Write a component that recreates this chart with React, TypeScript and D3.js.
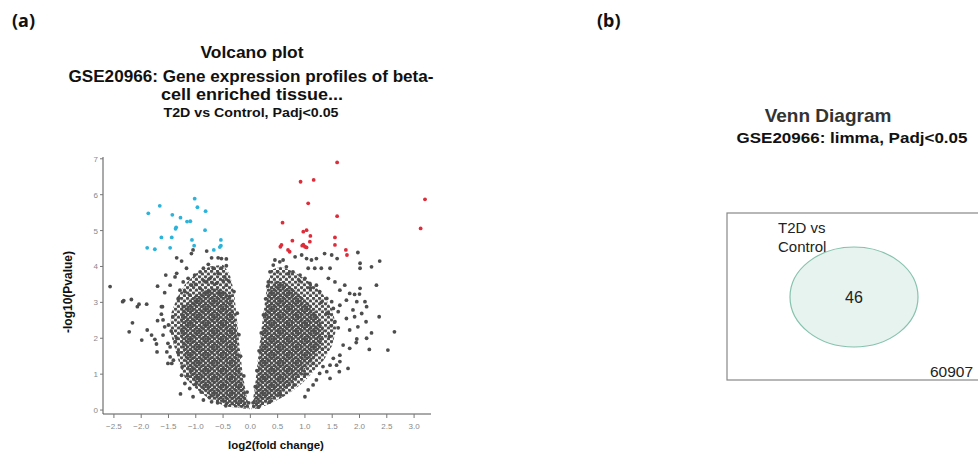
import React from "react";
import * as d3 from "d3";

type P = [number, number];

// ---- Volcano plot data (log2 fold change, -log10 p) ----
const xTicks = [-2.5, -2.0, -1.5, -1.0, -0.5, 0.0, 0.5, 1.0, 1.5, 2.0, 2.5, 3.0];
const yTicks = [0, 1, 2, 3, 4, 5, 6, 7];

const downGenes: P[] = [
  [-1.89, 4.52], [-1.75, 4.48], [-1.87, 5.48], [-1.66, 5.69], [-1.63, 4.81], [-1.47, 4.52],
  [-1.44, 4.81], [-1.43, 5.44], [-1.36, 5.09], [-1.37, 5.05], [-1.28, 5.36], [-1.16, 5.25],
  [-1.10, 5.26], [-1.07, 4.74], [-1.03, 4.58], [-1.02, 5.89], [-0.97, 5.65], [-0.82, 5.54],
  [-0.83, 5.01], [-0.67, 4.46], [-0.54, 4.74], [-0.54, 4.58], [-0.56, 4.54],
];

const upGenes: P[] = [
  [1.59, 6.90], [0.92, 6.36], [1.16, 6.41], [1.06, 5.76], [1.59, 5.40], [0.59, 5.22],
  [0.97, 4.97], [1.03, 5.01], [1.10, 4.85], [1.09, 4.69], [0.77, 4.72], [1.55, 4.81],
  [1.55, 4.60], [0.57, 4.60], [0.55, 4.55], [0.69, 4.46], [0.72, 4.41], [0.95, 4.58],
  [1.00, 4.55], [0.97, 4.61], [1.03, 4.53], [1.75, 4.46], [1.77, 4.32], [3.20, 5.87],
  [3.12, 5.06],
];

// outlines of the densely packed gene clouds (outer = semi-dense, inner = solid core)
const leftOuter: P[] = [
  [-0.01, 0.02], [-0.45, 0.1], [-0.75, 0.3], [-1.0, 0.6], [-1.2, 0.9], [-1.3, 1.3], [-1.4, 1.8],
  [-1.47, 2.2], [-1.45, 2.7], [-1.35, 3.1], [-1.2, 3.5], [-1.0, 3.8], [-0.75, 4.0], [-0.5, 4.05],
  [-0.38, 3.8], [-0.3, 3.3], [-0.25, 2.6], [-0.2, 1.8], [-0.14, 1.0], [-0.07, 0.4],
];
const leftInner: P[] = [
  [-0.03, 0.05], [-0.4, 0.14], [-0.65, 0.3], [-0.9, 0.6], [-1.08, 0.9], [-1.18, 1.3],
  [-1.25, 1.8], [-1.3, 2.3], [-1.25, 2.8], [-1.1, 3.1], [-0.9, 3.3], [-0.65, 3.4],
  [-0.45, 3.3], [-0.33, 3.0], [-0.27, 2.4], [-0.23, 1.7], [-0.17, 1.0], [-0.1, 0.5],
];
const rightOuter: P[] = [
  [0.02, 0.02], [0.08, 0.6], [0.13, 1.3], [0.19, 2.1], [0.25, 2.8], [0.3, 3.4], [0.38, 3.9],
  [0.55, 4.0], [0.8, 3.85], [1.05, 3.6], [1.3, 3.3], [1.5, 2.8], [1.58, 2.3], [1.5, 1.8],
  [1.35, 1.4], [1.15, 1.05], [0.95, 0.75], [0.7, 0.45], [0.4, 0.2], [0.15, 0.05],
];
const rightInner: P[] = [
  [0.04, 0.05], [0.1, 0.6], [0.15, 1.3], [0.21, 2.1], [0.27, 2.8], [0.33, 3.3], [0.45, 3.6],
  [0.65, 3.55], [0.85, 3.3], [1.05, 3.0], [1.25, 2.6], [1.35, 2.2], [1.3, 1.8], [1.15, 1.4],
  [0.95, 1.05], [0.7, 0.65], [0.45, 0.35], [0.2, 0.12],
];

const grayGenes: P[] = [
  // left side scattered
  [-2.57, 3.44], [-2.34, 3.02], [-2.32, 3.05], [-2.18, 3.08], [-2.07, 2.88], [-2.04, 2.95],
  [-2.16, 2.43], [-2.22, 2.18], [-1.99, 1.95], [-1.90, 2.95], [-1.89, 2.23], [-1.81, 2.09],
  [-1.75, 1.97], [-1.72, 1.84], [-1.71, 1.62], [-1.70, 3.45], [-1.70, 2.49], [-1.61, 2.88],
  [-1.55, 3.76], [-1.57, 3.27], [-1.28, 0.45], [-1.35, 4.24], [-1.26, 4.15], [-1.08, 4.36],
  [-1.05, 4.46], [-0.80, 4.43], [-0.59, 4.24], [-0.53, 4.22], [-0.44, 4.21], [-1.63, 2.88],
  [-1.57, 2.32], [-1.51, 1.86], [-1.53, 1.62], [-1.47, 1.48], [-1.41, 1.39], [-1.51, 1.30],
  [-1.26, 0.97], [-1.20, 0.74], [-1.11, 0.60], [-1.05, 0.37], [-0.86, 0.28], [-0.71, 0.23],
  [-1.60, 2.09], [-1.35, 2.00], [-1.17, 3.95], [-0.71, 4.24], [-0.77, 4.06], [-0.86, 3.95],
  [-0.92, 3.85], [-1.02, 3.76], [-1.14, 3.67], [-1.23, 3.57], [-1.35, 3.81], [-1.38, 3.71],
  [-1.47, 3.48], [-0.68, 3.95], [-0.59, 3.81], [-0.47, 3.71], [-0.44, 3.48], [-0.92, 3.39],
  [-1.29, 3.34], [-1.32, 3.11], [-1.23, 2.88], [-1.60, 2.51], [-1.63, 2.67], [-0.44, 4.02],
  [-0.53, 3.95], [-0.74, 3.67], [-0.80, 3.57], [-0.62, 3.53], [-1.08, 3.48], [-1.11, 3.20],
  [-0.77, 3.30], [-0.56, 3.25], [-0.38, 3.16], [-0.99, 3.02], [-1.50, 2.37], [-1.44, 1.30],
  [-1.47, 1.76],
  // left cloud edges
  [-1.45, 2.2], [-1.42, 2.6], [-1.38, 1.9], [-1.32, 1.6], [-1.25, 1.2], [-1.15, 0.95],
  [-1.0, 0.72], [-0.9, 0.5], [-0.75, 0.35], [-0.6, 0.2], [-0.45, 0.12], [-1.2, 3.3],
  [-1.0, 3.5], [-0.85, 3.6], [-0.7, 3.55], [-0.5, 3.6], [-0.4, 3.6], [-0.3, 3.3],
  [-0.24, 2.7], [-0.21, 2.1], [-0.18, 1.5], [-0.12, 0.95], [-0.06, 0.5], [-0.03, 0.2],
  // right side scattered
  [0.45, 4.18], [0.60, 4.18], [0.82, 4.27], [0.94, 4.32], [1.03, 4.22], [1.12, 4.18],
  [1.21, 4.22], [1.36, 4.36], [1.49, 4.32], [1.59, 4.22], [1.97, 4.39], [2.01, 4.09],
  [2.01, 3.95], [2.22, 3.99], [2.37, 4.15], [1.46, 3.95], [1.55, 3.57], [1.43, 3.67],
  [1.73, 3.48], [1.30, 3.95], [1.18, 3.95], [1.06, 3.95], [1.64, 3.34], [1.82, 3.25],
  [1.91, 3.22], [2.01, 3.39], [2.31, 3.48], [1.76, 3.06], [1.95, 3.02], [2.10, 3.02],
  [2.13, 2.88], [1.88, 2.79], [1.64, 2.92], [1.61, 2.74], [2.04, 2.69], [1.76, 2.55],
  [1.91, 2.60], [2.36, 2.60], [2.52, 1.67], [2.64, 2.18], [2.18, 1.69], [2.22, 2.15],
  [2.12, 2.46], [2.00, 3.23], [1.94, 1.88], [1.00, 0.37], [1.63, 1.07], [1.79, 1.16],
  [1.61, 2.29], [1.82, 2.23], [1.97, 2.32], [1.95, 1.98], [2.13, 2.00], [1.70, 1.81],
  [1.82, 1.72], [1.64, 1.53], [1.52, 1.44], [1.46, 1.25], [1.64, 1.35], [1.40, 1.07],
  [1.27, 1.02], [1.46, 0.88], [1.06, 0.56], [1.15, 0.70], [1.21, 0.84], [1.33, 1.21],
  [1.58, 1.25], [0.36, 3.85], [0.33, 3.57], [0.42, 4.04], [0.54, 4.13], [0.66, 3.99],
  [0.78, 3.85], [0.91, 3.76], [1.00, 3.67], [1.09, 3.53], [1.21, 3.48], [1.27, 3.30],
  [1.40, 3.11], [1.49, 3.02], [1.52, 2.83], [1.43, 2.69], [1.55, 2.46],
  // right cloud edges
  [0.05, 0.2], [0.09, 0.65], [0.12, 1.1], [0.16, 1.65], [0.2, 2.15], [0.24, 2.65],
  [0.28, 3.1], [0.32, 3.45], [0.5, 3.85], [0.7, 3.8], [0.9, 3.6], [1.1, 3.4], [1.3, 3.0],
  [1.4, 2.7], [1.48, 2.35], [1.45, 2.05], [1.32, 1.7], [1.15, 1.3], [1.0, 1.0], [0.8, 0.7],
  [0.55, 0.42], [0.35, 0.22], [0.15, 0.08],
];

// ---- Venn data ----
const vennSetLabel = ["T2D vs", "Control"];
const vennSetCount = 46;
const vennOutsideCount = 60907;

const FONT = "'Liberation Sans', Arial, Helvetica, sans-serif";

export default function App() {
  const x = d3.scaleLinear().domain([-2.7, 3.31]).range([103, 431]);
  const y = d3.scaleLinear().domain([-0.11, 7.05]).range([414, 157]);
  const outline = d3
    .line<P>()
    .x((d) => x(d[0]))
    .y((d) => y(d[1]))
    .curve(d3.curveLinearClosed);
  const fmt = d3.format(".1f");
  const r = 1.9;
  const dot = "#4d4d4d";

  return (
    <div style={{ position: "absolute", left: 0, top: 0 }}>
      <svg width={978} height={454} style={{ display: "block", background: "#fff" }} fontFamily={FONT}>
        <defs>
          <pattern id="sparse" width={6.0} height={5.4} patternUnits="userSpaceOnUse">
            <circle cx={1.5} cy={1.35} r={1.7} fill={dot} />
            <circle cx={4.5} cy={4.05} r={1.7} fill={dot} />
          </pattern>
          <pattern id="dense" width={4.4} height={4.0} patternUnits="userSpaceOnUse">
            <circle cx={1.1} cy={1.0} r={1.6} fill={dot} />
            <circle cx={3.3} cy={3.0} r={1.6} fill={dot} />
          </pattern>
        </defs>

        {/* panel labels */}
        <text x={12} y={27} fontSize={18} fontWeight="bold" fontFamily="'Noto Sans', 'Open Sans', sans-serif" fill="#111">(a)</text>
        <text x={597} y={27} fontSize={18} fontWeight="bold" fontFamily="'Noto Sans', 'Open Sans', sans-serif" fill="#111">(b)</text>

        {/* volcano titles */}
        <g textAnchor="middle" fontWeight="bold" fill="#111">
          <text x={252} y={58} fontSize={16.5} textLength={103} lengthAdjust="spacingAndGlyphs">Volcano plot</text>
          <text x={251} y={82} fontSize={16} textLength={365} lengthAdjust="spacingAndGlyphs">GSE20966: Gene expression profiles of beta-</text>
          <text x={252} y={100} fontSize={16} textLength={182} lengthAdjust="spacingAndGlyphs">cell enriched tissue...</text>
          <text x={251} y={117} fontSize={12.5} textLength={175} lengthAdjust="spacingAndGlyphs">T2D vs Control, Padj&lt;0.05</text>
        </g>

        {/* densely packed genes */}
        <path d={outline(leftOuter) || ""} fill="url(#sparse)" />
        <path d={outline(rightOuter) || ""} fill="url(#sparse)" />
        <path d={outline(leftInner) || ""} fill="url(#dense)" />
        <path d={outline(rightInner) || ""} fill="url(#dense)" />

        {grayGenes.map((d, i) => (
          <circle key={"g" + i} cx={x(d[0])} cy={y(d[1])} r={r} fill={dot} />
        ))}
        {downGenes.map((d, i) => (
          <circle key={"b" + i} cx={x(d[0])} cy={y(d[1])} r={r} fill="#2bb3d9" />
        ))}
        {upGenes.map((d, i) => (
          <circle key={"r" + i} cx={x(d[0])} cy={y(d[1])} r={r} fill="#de2d3a" />
        ))}

        {/* axes */}
        <line x1={103} x2={103} y1={157} y2={414} stroke="#555" strokeWidth={1} />
        <line x1={103} x2={431} y1={414} y2={414} stroke="#555" strokeWidth={1} />
        {yTicks.map((t) => (
          <g key={"yt" + t}>
            <line x1={100} x2={103} y1={y(t)} y2={y(t)} stroke="#777" />
            <text x={98} y={y(t) + 3} fontSize={8} textAnchor="end" fill="#888">{t}</text>
          </g>
        ))}
        {xTicks.map((t) => (
          <g key={"xt" + t}>
            <line x1={x(t)} x2={x(t)} y1={414} y2={418} stroke="#777" />
            <text x={x(t)} y={429} fontSize={8} textAnchor="middle" fill="#888">{fmt(t)}</text>
          </g>
        ))}
        <text x={276} y={449} fontSize={11.5} fontWeight="bold" textAnchor="middle" fill="#111">log2(fold change)</text>
        <text transform="translate(72,292) rotate(-90)" fontSize={12} fontWeight="bold" textAnchor="middle" fill="#111">-log10(Pvalue)</text>

        {/* Venn diagram */}
        <text x={828} y={122} fontSize={19} fontWeight="bold" textAnchor="middle" fill="#333">Venn Diagram</text>
        <text x={852} y={143} fontSize={15} fontWeight="bold" textAnchor="middle" fill="#111" textLength={231} lengthAdjust="spacingAndGlyphs">GSE20966: limma, Padj&lt;0.05</text>
        <rect x={727} y={213} width={300} height={167} fill="none" stroke="#888" strokeWidth={1.2} />
        <ellipse cx={854} cy={297} rx={64} ry={50} fill="#e7f3ee" stroke="#86c2ad" strokeWidth={1.2} />
        <text x={778} y={233} fontSize={15} fill="#222">{vennSetLabel[0]}</text>
        <text x={778} y={252} fontSize={15} fill="#222">{vennSetLabel[1]}</text>
        <text x={854} y={303} fontSize={16} textAnchor="middle" fill="#222">{vennSetCount}</text>
        <text x={930} y={377} fontSize={15.5} fill="#222">{vennOutsideCount}</text>
      </svg>
    </div>
  );
}
